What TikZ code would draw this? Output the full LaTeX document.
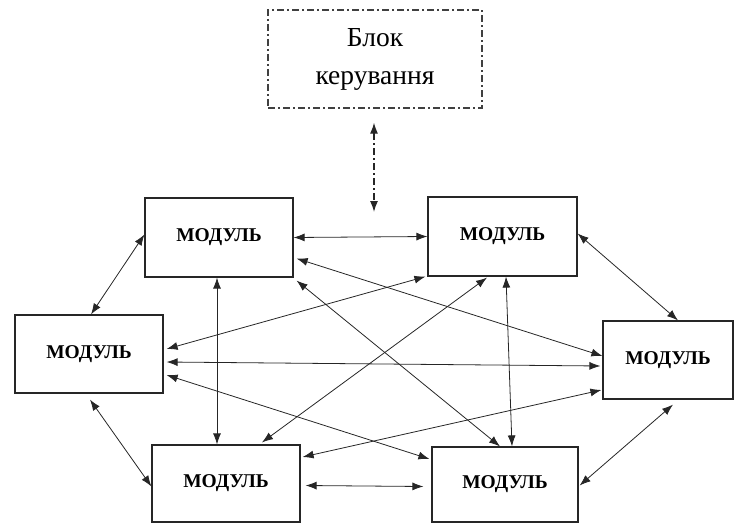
\documentclass[tikz,border=0pt]{standalone}
\usepackage{fontspec}
\setmainfont{Liberation Serif}
\usetikzlibrary{arrows.meta,calc}
\begin{document}
\begin{tikzpicture}[x=1pt,y=-1pt,
  modbox/.style={draw=black!85, line width=1.2pt, fill=white, inner sep=0pt,
    font=\fontsize{19.5}{22}\selectfont\bfseries},
  ctrlbox/.style={draw=black!75, line width=1.3pt, dash pattern=on 7pt off 3pt on 2pt off 3pt,
    inner sep=0pt, align=center, font=\fontsize{27.5}{38}\selectfont},
  conn/.style={{Latex[length=11pt,width=8pt]}-{Latex[length=11pt,width=8pt]}, line width=0.8pt, draw=black!85},
  ctrlconn/.style={{Latex[length=11pt,width=8pt]}-{Latex[length=11pt,width=8pt]}, line width=1.3pt, draw=black!85,
    dash pattern=on 7pt off 3pt on 2pt off 3pt}
]
\useasboundingbox (0,0) rectangle (743,524);
\node[ctrlbox, minimum width=214pt, minimum height=98pt] (ctrl) at (375,59) {Блок\\керування};
\node[modbox, minimum width=148pt, minimum height=79pt] (m1) at (219,237.5) {МОДУЛЬ};
\node[modbox, minimum width=149pt, minimum height=79pt] (m2) at (502.5,236.5) {МОДУЛЬ};
\node[modbox, minimum width=148pt, minimum height=78pt] (m3) at (89,354) {МОДУЛЬ};
\node[modbox, minimum width=130pt, minimum height=78pt] (m4) at (668,360) {МОДУЛЬ};
\node[modbox, minimum width=148pt, minimum height=77pt] (m5) at (226,483.5) {МОДУЛЬ};
\node[modbox, minimum width=146pt, minimum height=75pt] (m6) at (505,484.5) {МОДУЛЬ};
\coordinate (ctrlend) at (374,212);
\draw[ctrlconn] ($(ctrl.south)+(-1,14)$) -- (ctrlend);
% outer ring
\draw[conn] (m1.east) -- (m2.west);
\draw[conn] ($(m1.west)+(0,-3)$) -- ($(m3.north)+(2,0)$);
\draw[conn] ($(m2.east)+(0,-3)$) -- ($(m4.north)+(10,0)$);
\draw[conn] ($(m3.south)+(1,6)$) -- ($(m5.west)+(0,3)$);
\draw[conn] ($(m4.south)+(5,5)$) -- ($(m6.east)+(1,1)$);
\draw[conn] ($(m5.east)+(5,2)$) -- ($(m6.west)+(-8,2)$);
% verticals
\draw[conn] ($(m1.south)+(-2,0)$) -- ($(m5.north)+(-9,0)$);
\draw[conn] ($(m2.south)+(3.5,0)$) -- ($(m6.north)+(7,0)$);
% diagonals
\draw[conn] ($(m1.south east)+(3,3)$) -- ($(m6.north)+(-5,0)$);
\draw[conn] ($(m2.south)+(-15.5,1)$) -- ($(m5.north)+(36,-2)$);
\draw[conn] ($(m1.east)+(3,21)$) -- ($(m4.west)+(0,-4)$);
\draw[conn] ($(m2.south west)+(-2,0)$) -- ($(m3.east)+(3,-5)$);
\draw[conn] ($(m3.east)+(3,8)$) -- ($(m4.west)+(-2,6)$);
\draw[conn] ($(m3.east)+(3,21)$) -- ($(m6.west)+(-2,-25.5)$);
\draw[conn] ($(m4.west)+(-1,30)$) -- ($(m5.east)+(2,-26.5)$);
\end{tikzpicture}
\end{document}
